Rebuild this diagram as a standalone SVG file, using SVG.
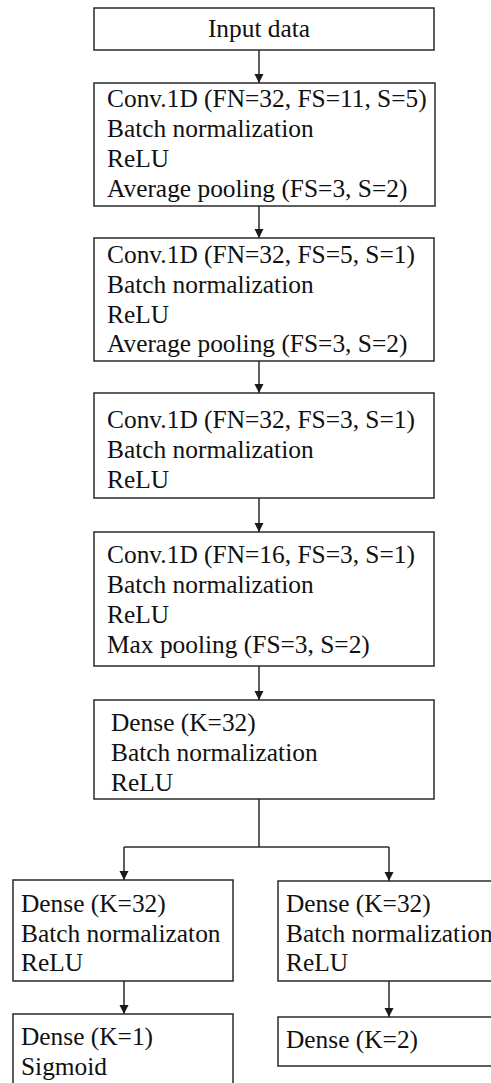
<svg xmlns="http://www.w3.org/2000/svg" width="491" height="1083" viewBox="0 0 491 1083">
<style>
.box{fill:#fff;stroke:#2a2a2a;stroke-width:1.5}
.t{font-family:"Liberation Serif","Times New Roman",Times,serif;font-size:25.4px;fill:#111}
.c{fill:none;stroke:#2a2a2a;stroke-width:1.5}
</style>
<defs>
<marker id="ah" viewBox="0 0 10 10" refX="10" refY="5" markerWidth="9" markerHeight="10" markerUnits="userSpaceOnUse" orient="auto">
<path d="M0,0 L10,5 L0,10 z" fill="#1a1a1a"/>
</marker>
</defs>
<rect width="491" height="1083" fill="#fff"/>
<g id="connectors">
<line class="c" x1="259" y1="50" x2="259" y2="83" marker-end="url(#ah)"/>
<line class="c" x1="259" y1="206" x2="259" y2="238" marker-end="url(#ah)"/>
<line class="c" x1="259" y1="361" x2="259" y2="393" marker-end="url(#ah)"/>
<line class="c" x1="259" y1="498" x2="259" y2="532" marker-end="url(#ah)"/>
<line class="c" x1="259" y1="666" x2="259" y2="700" marker-end="url(#ah)"/>
<polyline class="c" points="259,799 259,847"/>
<polyline class="c" points="124,847 389,847"/>
<line class="c" x1="124" y1="847" x2="124" y2="880" marker-end="url(#ah)"/>
<line class="c" x1="389" y1="847" x2="389" y2="881" marker-end="url(#ah)"/>
<line class="c" x1="124" y1="981" x2="124" y2="1014" marker-end="url(#ah)"/>
<line class="c" x1="389" y1="981" x2="389" y2="1017" marker-end="url(#ah)"/>
</g>
<g id="input">
<rect class="box" x="94" y="8" width="340" height="42"/>
<text class="t" x="259" y="37" text-anchor="middle">Input data</text>
</g>
<g id="conv1">
<rect class="box" x="94" y="83" width="341" height="123"/>
<text class="t" x="107" y="107">Conv.1D (FN=32, FS=11, S=5)</text>
<text class="t" x="107" y="137">Batch normalization</text>
<text class="t" x="107" y="167">ReLU</text>
<text class="t" x="107" y="197">Average pooling (FS=3, S=2)</text>
</g>
<g id="conv2">
<rect class="box" x="94" y="238" width="340" height="123"/>
<text class="t" x="107" y="263">Conv.1D (FN=32, FS=5, S=1)</text>
<text class="t" x="107" y="293">Batch normalization</text>
<text class="t" x="107" y="323">ReLU</text>
<text class="t" x="107" y="352">Average pooling (FS=3, S=2)</text>
</g>
<g id="conv3">
<rect class="box" x="94" y="393" width="340" height="105"/>
<text class="t" x="107" y="428">Conv.1D (FN=32, FS=3, S=1)</text>
<text class="t" x="107" y="458">Batch normalization</text>
<text class="t" x="107" y="488">ReLU</text>
</g>
<g id="conv4">
<rect class="box" x="94" y="532" width="340" height="134"/>
<text class="t" x="107" y="563">Conv.1D (FN=16, FS=3, S=1)</text>
<text class="t" x="107" y="593">Batch normalization</text>
<text class="t" x="107" y="623">ReLU</text>
<text class="t" x="107" y="653">Max pooling (FS=3, S=2)</text>
</g>
<g id="dense1">
<rect class="box" x="94" y="700" width="340" height="99"/>
<text class="t" x="111" y="731">Dense (K=32)</text>
<text class="t" x="111" y="761">Batch normalization</text>
<text class="t" x="111" y="791">ReLU</text>
</g>
<g id="dense_left">
<rect class="box" x="13" y="880" width="220" height="101"/>
<text class="t" x="21" y="912">Dense (K=32)</text>
<text class="t" x="21" y="942">Batch normalizaton</text>
<text class="t" x="21" y="971">ReLU</text>
</g>
<g id="dense_right">
<rect class="box" x="278" y="881" width="240" height="100"/>
<text class="t" x="286" y="912">Dense (K=32)</text>
<text class="t" x="286" y="942">Batch normalization</text>
<text class="t" x="286" y="971">ReLU</text>
</g>
<g id="out_left">
<rect class="box" x="13" y="1014" width="220" height="90"/>
<text class="t" x="21" y="1045">Dense (K=1)</text>
<text class="t" x="21" y="1075">Sigmoid</text>
</g>
<g id="out_right">
<rect class="box" x="278" y="1017" width="240" height="49"/>
<text class="t" x="286" y="1048">Dense (K=2)</text>
</g>
</svg>
